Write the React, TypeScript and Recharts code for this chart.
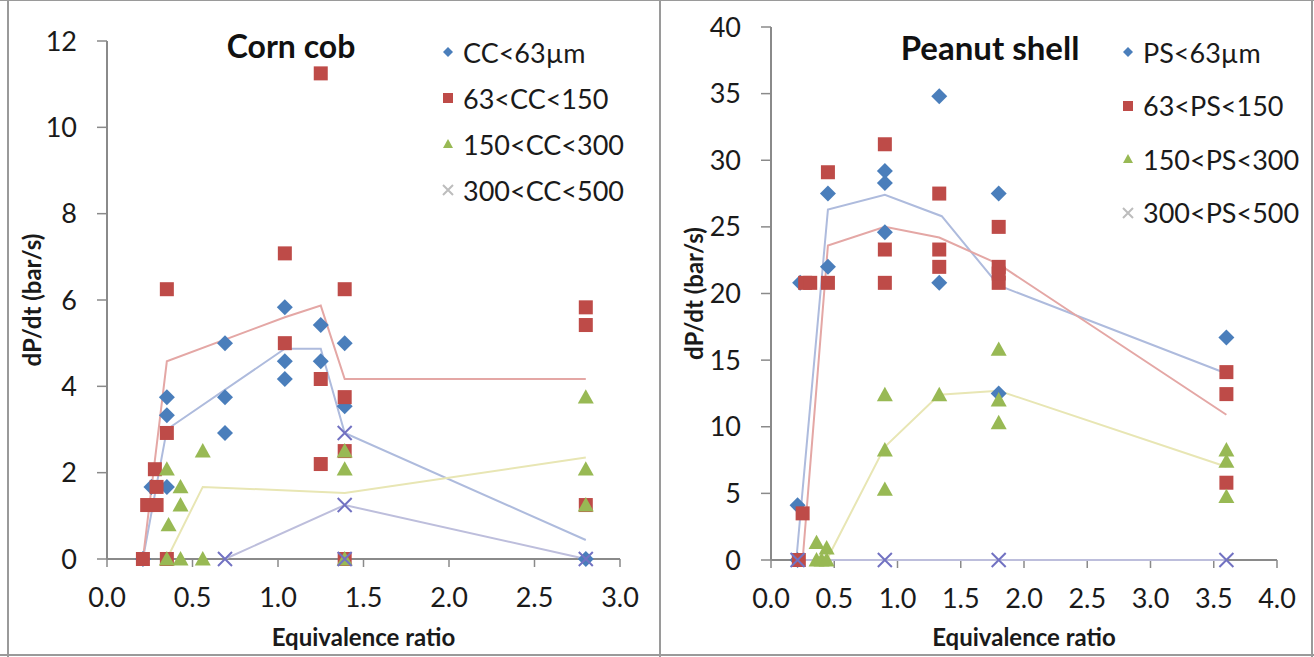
import React from 'react';
import { ScatterChart, Scatter, XAxis, YAxis, Label } from 'recharts';

const FONT = "Lato, 'Open Sans', 'DejaVu Sans', sans-serif";

// ---------- Corn cob ----------
const ccXTicks = [0, 0.5, 1, 1.5, 2, 2.5, 3];
const ccYTicks = [0, 2, 4, 6, 8, 10, 12];
const ccNames = ['CC<63µm', '63<CC<150', '150<CC<300', '300<CC<500'];

const cc63 = [[0.21, 0], [0.26, 1.67], [0.35, 1.67], [0.35, 3.33], [0.35, 3.75], [0.69, 2.92], [0.69, 3.75], [0.69, 5.0], [1.04, 4.17], [1.04, 4.58], [1.04, 5.83], [1.25, 4.58], [1.25, 5.42], [1.39, 3.54], [1.39, 5.0], [2.8, 0]];
const cc150 = [[0.21, 0], [0.235, 1.25], [0.29, 1.25], [0.29, 1.67], [0.28, 2.08], [0.35, 6.25], [0.35, 2.92], [0.35, 0], [1.04, 7.08], [1.04, 5.0], [1.25, 11.25], [1.25, 4.17], [1.25, 2.2], [1.39, 6.25], [1.39, 3.75], [1.39, 2.5], [1.39, 0], [2.8, 5.83], [2.8, 5.42], [2.8, 1.25]];
const cc300 = [[0.35, 2.08], [0.36, 0.79], [0.35, 0], [0.43, 1.67], [0.43, 1.25], [0.43, 0], [0.56, 2.5], [0.56, 0], [1.39, 2.5], [1.39, 2.08], [1.39, 0], [2.8, 3.75], [2.8, 2.08], [2.8, 1.25]];
const cc500 = [[0.69, 0], [1.39, 2.92], [1.39, 1.25], [1.39, 0], [2.8, 0]];

const ccLine63 = [[0.21, 0], [0.35, 3.0], [1.04, 4.87], [1.25, 4.87], [1.39, 2.92], [2.8, 0.44]];
const ccLine150 = [[0.21, 0], [0.35, 4.58], [1.04, 5.6], [1.25, 5.87], [1.39, 4.17], [2.8, 4.17]];
const ccLine300 = [[0.35, 0], [0.56, 1.67], [1.39, 1.53], [2.8, 2.35]];
const ccLine500 = [[0.69, 0], [1.39, 1.25], [2.8, 0]];

// ---------- Peanut shell ----------
const psXTicks = [0, 0.5, 1, 1.5, 2, 2.5, 3, 3.5, 4];
const psYTicks = [0, 5, 10, 15, 20, 25, 30, 35, 40];
const psNames = ['PS<63µm', '63<PS<150', '150<PS<300', '300<PS<500'];

const ps63 = [[0.21, 0], [0.21, 4.1], [0.23, 20.8], [0.45, 22.0], [0.45, 27.5], [0.9, 24.6], [0.9, 28.3], [0.9, 29.2], [1.33, 20.8], [1.33, 34.8], [1.8, 27.5], [1.8, 12.5], [3.6, 16.7]];
const ps150 = [[0.22, 0], [0.25, 3.5], [0.27, 20.8], [0.31, 20.8], [0.45, 20.8], [0.45, 29.1], [0.9, 20.8], [0.9, 23.3], [0.9, 31.2], [1.33, 22.0], [1.33, 23.3], [1.33, 27.5], [1.8, 20.8], [1.8, 21.5], [1.8, 22.0], [1.8, 25.0], [3.6, 14.1], [3.6, 12.45], [3.6, 5.8]];
const ps300 = [[0.36, 1.3], [0.36, 0], [0.4, 0], [0.44, 0.9], [0.44, 0], [0.9, 12.4], [0.9, 8.25], [0.9, 5.3], [1.33, 12.4], [1.8, 15.8], [1.8, 12.0], [1.8, 10.3], [3.6, 8.25], [3.6, 7.4], [3.6, 4.75]];
const ps500 = [[0.21, 0], [0.9, 0], [1.8, 0], [3.6, 0]];

const psLine63 = [[0.2, 0], [0.45, 26.3], [0.9, 27.4], [1.35, 25.8], [1.8, 20.6], [3.6, 14.0]];
const psLine150 = [[0.25, 0], [0.45, 23.6], [0.9, 25.0], [1.33, 24.2], [1.8, 22.2], [3.6, 10.9]];
const psLine300 = [[0.44, 0], [0.9, 8.5], [1.33, 12.4], [1.8, 12.7], [3.6, 7.0]];
const psLine500 = [[0.21, 0], [0.9, 0], [1.8, 0], [3.6, 0]];

// ---------- styles ----------
const BLUE = '#4A7EBB';
const RED = '#BE4B48';
const GREEN = '#98B954';
const PURPLE = '#7272C2';
const LEGEND_X = '#BDBDBD';
const LINE_COLORS = ['#AEBBDD', '#E4A7A5', '#E8E6B4', '#BDBEDC'];
const AXIS = '#8A8A8A';

const pts = (arr: number[][]) => arr.map(([x, y]) => ({ x, y }));

const diamond = (color: string, r: number) => (p: any) => (
  <polygon points={`${p.cx},${p.cy - r} ${p.cx + r},${p.cy} ${p.cx},${p.cy + r} ${p.cx - r},${p.cy}`} fill={color} />
);
const square = (color: string, r: number) => (p: any) => (
  <rect x={p.cx - r} y={p.cy - r} width={2 * r} height={2 * r} fill={color} />
);
const triangle = (color: string, r: number) => (p: any) => (
  <polygon points={`${p.cx},${p.cy - r} ${p.cx + r},${p.cy + r * 0.8} ${p.cx - r},${p.cy + r * 0.8}`} fill={color} />
);
const cross = (color: string, r: number) => (p: any) => (
  <path d={`M${p.cx - r},${p.cy - r}L${p.cx + r},${p.cy + r}M${p.cx - r},${p.cy + r}L${p.cx + r},${p.cy - r}`} stroke={color} strokeWidth={2} fill="none" />
);
const none = () => <g />;

const markerShapes = [diamond(BLUE, 8), square(RED, 7), triangle(GREEN, 8), cross(PURPLE, 7)];
const legendShapes = [diamond(BLUE, 5), square(RED, 5), triangle(GREEN, 5), cross(LEGEND_X, 5)];

const tickStyle = { fill: '#1a1a1a', fontSize: 27, fontFamily: FONT };
const titleStyle = { fill: '#1a1a1a', fontSize: 24, fontFamily: FONT, fontWeight: 700 };

type PanelProps = {
  width: number;
  margin: { top: number; right: number; bottom: number; left: number };
  yWidth: number;
  xHeight: number;
  xDomain: [number, number];
  yDomain: [number, number];
  xTicks: number[];
  yTicks: number[];
  series: number[][][];
  lines: number[][][];
};

function Panel(p: PanelProps) {
  return (
    <ScatterChart width={p.width} height={657} margin={p.margin}>
      <XAxis
        type="number"
        dataKey="x"
        domain={p.xDomain}
        ticks={p.xTicks}
        tickFormatter={(v: number) => v.toFixed(1)}
        height={p.xHeight}
        axisLine={{ stroke: AXIS, strokeWidth: 2 }}
        tickLine={{ stroke: AXIS, strokeWidth: 1.5 }}
        tickSize={8}
        tickMargin={21}
        tick={tickStyle}
        interval={0}
      >
        <Label value="Equivalence ratio" position="insideBottom" offset={11} style={titleStyle} />
      </XAxis>
      <YAxis
        type="number"
        dataKey="y"
        domain={p.yDomain}
        ticks={p.yTicks}
        width={p.yWidth}
        axisLine={{ stroke: AXIS, strokeWidth: 2 }}
        tickLine={{ stroke: AXIS, strokeWidth: 1.5 }}
        tickSize={10}
        tickMargin={20}
        tick={tickStyle}
        interval={0}
      >
        <Label value="dP/dt (bar/s)" position="insideLeft" angle={-90} offset={32} style={{ ...titleStyle, textAnchor: 'middle' }} />
      </YAxis>
      {p.lines.map((l, i) => (
        <Scatter
          key={'l' + i}
          data={pts(l)}
          line={{ stroke: LINE_COLORS[i], strokeWidth: 2 }}
          shape={none}
          isAnimationActive={false}
          legendType="none"
        />
      ))}
      {p.series.map((s, i) => (
        <Scatter key={'s' + i} data={pts(s)} shape={markerShapes[i]} isAnimationActive={false} />
      ))}
    </ScatterChart>
  );
}

function LegendBox({ left, top, names, gaps }: { left: number; top: number; names: string[]; gaps: number }) {
  return (
    <div style={{ position: 'absolute', left, top }}>
      {names.map((n, i) => (
        <div key={n} style={{ position: 'absolute', left: 0, top: i * gaps, height: 32, display: 'flex', alignItems: 'center', whiteSpace: 'nowrap' }}>
          <svg width={18} height={18} style={{ marginRight: 6 }}>
            {legendShapes[i]({ cx: 9, cy: 9 })}
          </svg>
          <span style={{ fontFamily: FONT, fontSize: 27, color: '#1a1a1a' }}>{n}</span>
        </div>
      ))}
    </div>
  );
}

export default function App() {
  const line = (s: React.CSSProperties) => <div style={{ position: 'absolute', background: '#9a9a9a', ...s }} />;
  return (
    <div style={{ position: 'absolute', left: 0, top: 0, width: 1314, height: 657, background: '#fff', overflow: 'hidden' }}>
      <div style={{ position: 'absolute', left: 0, top: 0 }}>
        <Panel
          width={660}
          margin={{ top: 41, right: 40, bottom: 0, left: 0 }}
          yWidth={107}
          xHeight={98}
          xDomain={[0, 3]}
          yDomain={[0, 12]}
          xTicks={ccXTicks}
          yTicks={ccYTicks}
          series={[cc63, cc150, cc300, cc500]}
          lines={[ccLine63, ccLine150, ccLine300, ccLine500]}
        />
      </div>
      <div style={{ position: 'absolute', left: 662, top: 0 }}>
        <Panel
          width={652}
          margin={{ top: 27, right: 37, bottom: 0, left: 0 }}
          yWidth={109}
          xHeight={97}
          xDomain={[0, 4]}
          yDomain={[0, 40]}
          xTicks={psXTicks}
          yTicks={psYTicks}
          series={[ps63, ps150, ps300, ps500]}
          lines={[psLine63, psLine150, psLine300, psLine500]}
        />
      </div>
      <div style={{ position: 'absolute', left: 291, top: 45, transform: 'translate(-50%,-50%)', fontFamily: FONT, fontWeight: 700, fontSize: 32, color: '#111', whiteSpace: 'nowrap' }}>Corn cob</div>
      <div style={{ position: 'absolute', left: 990, top: 47, transform: 'translate(-50%,-50%)', fontFamily: FONT, fontWeight: 700, fontSize: 33, color: '#111', whiteSpace: 'nowrap' }}>Peanut shell</div>
      <LegendBox left={439} top={36} names={ccNames} gaps={46} />
      <LegendBox left={1119} top={36} names={psNames} gaps={53.5} />
      {line({ left: 7, top: 0, width: 2, height: 657 })}
      {line({ left: 0, top: 654, width: 1314, height: 2 })}
      {line({ left: 0, top: 0, width: 1314, height: 1 })}
      {line({ left: 1311, top: 0, width: 2, height: 657 })}
      {line({ left: 659, top: 0, width: 2, height: 657 })}
    </div>
  );
}
